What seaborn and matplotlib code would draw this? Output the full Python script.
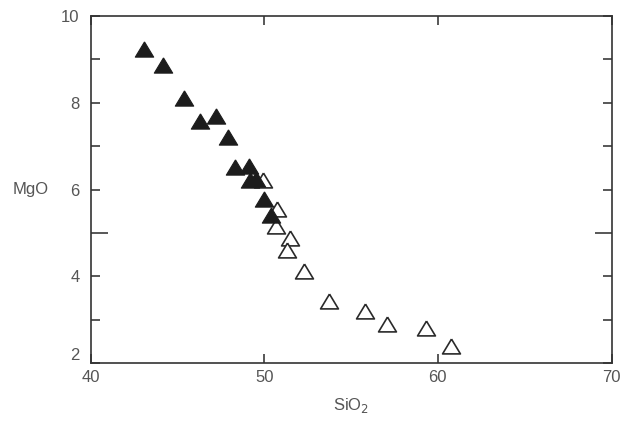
import matplotlib
matplotlib.use("Agg")
import matplotlib.pyplot as plt
import seaborn as sns
import pandas as pd

# Basaltic (filled) and evolved (open) samples
sio2_filled = [43.1, 44.2, 45.4, 46.3, 47.2, 47.9, 48.3, 49.15, 49.2, 49.55, 50.0, 50.4]
mgo_filled = [9.25, 8.86, 8.12, 7.59, 7.69, 7.20, 6.51, 6.55, 6.21, 6.25, 5.77, 5.42]

sio2_open = [49.95, 50.75, 50.7, 51.5, 51.3, 52.3, 53.75, 55.8, 57.1, 59.3, 60.75]
mgo_open = [6.23, 5.56, 5.16, 4.89, 4.61, 4.13, 3.44, 3.20, 2.89, 2.81, 2.40]

x_ticks = [40, 50, 60, 70]
y_ticks = [2, 3, 4, 5, 6, 7, 8, 9, 10]
y_labels = ["2", "", "4", "", "6", "", "8", "", "10"]

sns.set_theme(style="white")
plt.rcParams["font.family"] = ["Liberation Sans", "DejaVu Sans"]

filled = pd.DataFrame({"SiO2": sio2_filled, "MgO": mgo_filled})
opened = pd.DataFrame({"SiO2": sio2_open, "MgO": mgo_open})

fig = plt.figure(figsize=(6.2, 4.28), dpi=100)
ax = fig.add_axes([90.5 / 620, 1 - 363 / 428, 521 / 620, 347 / 428])

tri = [(0, 0.83), (-1, -0.83), (1, -0.83), (0, 0.83)]
sns.scatterplot(data=filled, x="SiO2", y="MgO", ax=ax, marker=tri, s=175,
                color="#1c1c1c", edgecolor="#1c1c1c", linewidth=0.8, zorder=3)
sns.scatterplot(data=opened, x="SiO2", y="MgO", ax=ax, marker=tri, s=165,
                facecolor="white", edgecolor="#2a2a2a", linewidth=1.2, zorder=2)

ax.set_xlim(40, 70)
ax.set_ylim(2, 10)
ax.set_xticks(x_ticks)
ax.set_yticks(y_ticks)
ax.set_yticklabels(y_labels)

ax.tick_params(axis="both", direction="in", length=6.5, width=1.1, color="#2a2a2a",
               labelsize=12, labelcolor="#555555")
ax.tick_params(axis="x", top=True, bottom=True, pad=5)
ax.tick_params(axis="y", left=True, right=True, pad=8)

# longer mid-range ticks at SiO2 = 50 and MgO = 5
for t in ax.xaxis.get_major_ticks():
    if t.get_loc() == 50:
        t.tick1line.set_markersize(12.5)
        t.tick2line.set_markersize(12.5)
for t in ax.yaxis.get_major_ticks():
    if t.get_loc() == 5:
        t.tick1line.set_markersize(12.5)
        t.tick2line.set_markersize(12.5)
        t.tick1line.set_color("#777777")
        t.tick2line.set_color("#777777")
    if t.get_loc() == 2:
        t.label1.set_va("bottom")

for sp in ax.spines.values():
    sp.set_visible(True)
    sp.set_color("#333333")
    sp.set_linewidth(1.2)

ax.set_xlabel("SiO$_2$", fontsize=12, color="#555555", labelpad=8)
ax.set_ylabel("")
ax.text(-0.115, 0.5, "MgO", transform=ax.transAxes, fontsize=12, color="#555555",
        ha="center", va="center")

fig.savefig("out.png", dpi=100, facecolor="white")
